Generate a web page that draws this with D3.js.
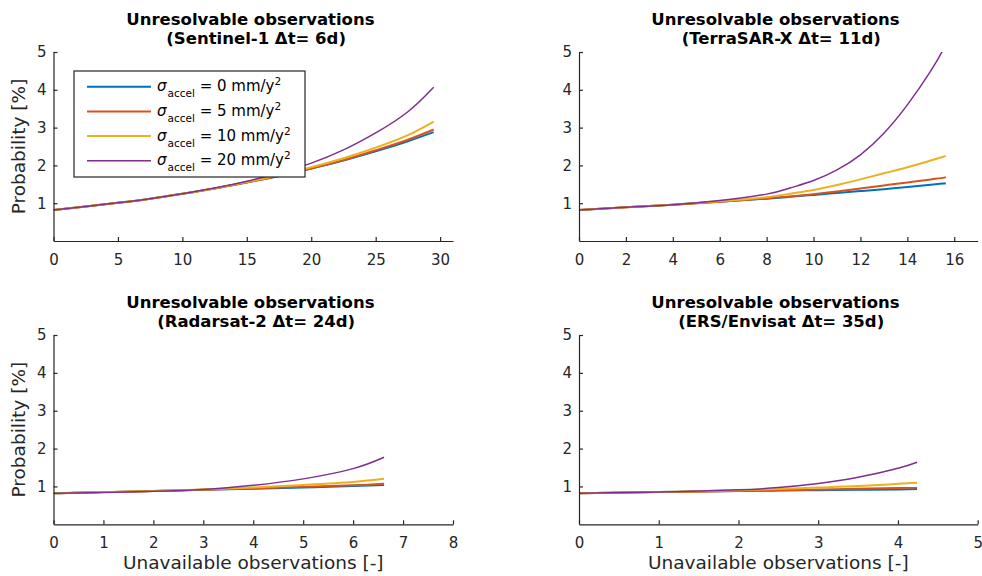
<!DOCTYPE html>
<html>
<head>
<meta charset="utf-8">
<script src="https://cdn.jsdelivr.net/npm/d3@7"></script>
<style>
  body { margin: 0; background: #fff; }
  svg { font-family: "DejaVu Sans", sans-serif; }
</style>
</head>
<body>
<svg id="fig" width="982" height="576"></svg>
<script>
// series order: sigma_accel = 0, 5, 10, 20 mm/y^2
var sigmaLabels = ["0", "5", "10", "20"];
var colors = ["#0072BD", "#D95319", "#EDB120", "#7E2F8E"];
var widths = [2, 2, 2, 1.5];

var titles = [
    ["Unresolvable observations ", " (Sentinel-1 \u0394t= 6d)"],
    ["Unresolvable observations ", " (TerraSAR-X \u0394t= 11d)"],
    ["Unresolvable observations ", " (Radarsat-2 \u0394t= 24d)"],
    ["Unresolvable observations ", " (ERS/Envisat \u0394t= 35d)"]
];

var xMax = [31, 17, 8, 5];
var xTicks = [
    [0, 5, 10, 15, 20, 25, 30],
    [0, 2, 4, 6, 8, 10, 12, 14, 16],
    [0, 1, 2, 3, 4, 5, 6, 7, 8],
    [0, 1, 2, 3, 4, 5]
];
var yTicks = [1, 2, 3, 4, 5];

// Sentinel-1
var s1_x = [0, 2.5, 5, 7.5, 10, 12.5, 15, 17.5, 20, 22.5, 25, 27.5, 29.5];
var s1_y = [
    [0.82, 0.91, 1.01, 1.12, 1.25, 1.39, 1.55, 1.72, 1.92, 2.13, 2.37, 2.64, 2.88],
    [0.82, 0.91, 1.01, 1.12, 1.25, 1.39, 1.55, 1.72, 1.92, 2.14, 2.40, 2.68, 2.95],
    [0.82, 0.91, 1.01, 1.12, 1.25, 1.39, 1.56, 1.74, 1.95, 2.19, 2.47, 2.80, 3.16],
    [0.82, 0.91, 1.01, 1.12, 1.25, 1.40, 1.58, 1.80, 2.06, 2.41, 2.86, 3.42, 4.07]
];

// TerraSAR-X
var tsx_x = [0, 2, 4, 6, 8, 9, 10, 11, 12, 13, 14, 15, 15.5, 15.64];
var tsx_y = [
    [0.82, 0.89, 0.96, 1.04, 1.12, 1.17, 1.22, 1.27, 1.32, 1.37, 1.43, 1.49, 1.52, 1.53],
    [0.82, 0.89, 0.96, 1.04, 1.13, 1.18, 1.24, 1.31, 1.39, 1.47, 1.55, 1.63, 1.67, 1.69],
    [0.82, 0.89, 0.96, 1.05, 1.16, 1.25, 1.35, 1.48, 1.63, 1.79, 1.95, 2.13, 2.22, 2.25],
    [0.82, 0.89, 0.96, 1.07, 1.24, 1.40, 1.60, 1.88, 2.28, 2.85, 3.60, 4.50, 5.03, 5.2]
];

// Radarsat-2
var rs2_x = [0, 1, 2, 3, 4, 5, 6, 6.62];
var rs2_y = [
    [0.82, 0.85, 0.88, 0.91, 0.94, 0.97, 1.01, 1.04],
    [0.82, 0.85, 0.88, 0.91, 0.95, 0.99, 1.03, 1.07],
    [0.82, 0.85, 0.88, 0.92, 0.97, 1.04, 1.12, 1.20],
    [0.82, 0.84, 0.87, 0.92, 1.03, 1.20, 1.47, 1.77]
];

// ERS/Envisat
var ers_x = [0, 1, 2, 2.5, 3, 3.5, 4, 4.24];
var ers_y = [
    [0.82, 0.85, 0.88, 0.89, 0.90, 0.91, 0.92, 0.93],
    [0.82, 0.85, 0.88, 0.90, 0.92, 0.94, 0.96, 0.97],
    [0.82, 0.85, 0.90, 0.93, 0.97, 1.01, 1.07, 1.10],
    [0.82, 0.85, 0.91, 0.97, 1.08, 1.24, 1.48, 1.64]
];

var panelX = [s1_x, tsx_x, rs2_x, ers_x];
var panelY = [s1_y, tsx_y, rs2_y, ers_y];

// axes boxes: [left, right, top, bottom]
var boxes = [
    [53.5, 453, 52, 241],
    [579, 977.7, 52, 241],
    [53.5, 453, 335, 524.3],
    [579, 977.7, 335, 524.3]
];

var svg = d3.select("#fig");
var axisColor = "#262626";

boxes.forEach(function (b, p) {
    var x = d3.scaleLinear().domain([0, xMax[p]]).range([b[0], b[1]]);
    var y = d3.scaleLinear().domain([0, 5]).range([b[3], b[2]]);
    var g = svg.append("g").attr("class", "panel");

    g.append("clipPath").attr("id", "clip" + p)
        .append("rect")
        .attr("x", b[0]).attr("y", b[2])
        .attr("width", b[1] - b[0]).attr("height", b[3] - b[2]);

    var line = d3.line()
        .x(function (d) { return x(d[0]); })
        .y(function (d) { return y(d[1]); })
        .curve(d3.curveNatural);

    var lines = g.append("g").attr("clip-path", "url(#clip" + p + ")");
    panelY[p].forEach(function (ser, i) {
        lines.append("path")
            .datum(panelX[p].map(function (v, k) { return [v, ser[k]]; }))
            .attr("d", line)
            .attr("fill", "none")
            .attr("stroke", colors[i])
            .attr("stroke-width", widths[i]);
    });

    var fmt = d3.format("d");
    var ax = g.append("g")
        .attr("transform", "translate(0," + b[3] + ")")
        .call(d3.axisBottom(x).tickValues(xTicks[p]).tickFormat(fmt)
            .tickSizeInner(-4).tickSizeOuter(0).tickPadding(13));
    var ay = g.append("g")
        .attr("transform", "translate(" + b[0] + ",0)")
        .call(d3.axisLeft(y).tickValues(yTicks).tickFormat(fmt)
            .tickSizeInner(-4).tickSizeOuter(0).tickPadding(7));

    [ax, ay].forEach(function (a) {
        a.select(".domain").attr("stroke", axisColor).attr("stroke-width", 1.2);
        a.selectAll(".tick line").attr("stroke", axisColor).attr("stroke-width", 1.2);
        a.selectAll(".tick text").attr("fill", axisColor)
            .attr("font-size", 15).attr("font-family", "DejaVu Sans");
    });

    var cx = (b[0] + b[1]) / 2;
    titles[p].forEach(function (t, k) {
        g.append("text")
            .attr("x", cx)
            .attr("y", b[2] - 27 + k * 19)
            .attr("text-anchor", "middle")
            .attr("font-size", 16.5)
            .attr("font-weight", "bold")
            .style("white-space", "pre")
            .attr("fill", "#000")
            .text(t);
    });

    // y label only on left column, x label only on bottom row
    if (p % 2 == 0) {
        g.append("text")
            .attr("transform", "translate(25," + ((b[2] + b[3]) / 2) + ") rotate(-90)")
            .attr("text-anchor", "middle")
            .attr("font-size", 18.5)
            .attr("fill", axisColor)
            .text("Probability [%]");
    }
    if (p >= 2) {
        g.append("text")
            .attr("x", cx)
            .attr("y", 569)
            .attr("text-anchor", "middle")
            .attr("font-size", 18.5)
            .attr("fill", axisColor)
            .text("Unavailable observations [-]");
    }
});

// legend in first panel
var leg = svg.append("g").attr("transform", "translate(74,71)");
leg.append("rect")
    .attr("width", 231).attr("height", 106)
    .attr("fill", "#fff")
    .attr("stroke", axisColor)
    .attr("stroke-width", 1.2);

sigmaLabels.forEach(function (s, i) {
    var ry = 15.7 + i * 24.7;
    leg.append("line")
        .attr("x1", 13).attr("x2", 77)
        .attr("y1", ry).attr("y2", ry)
        .attr("stroke", colors[i])
        .attr("stroke-width", widths[i]);
    var t = leg.append("text")
        .attr("x", 83).attr("y", ry + 4.5)
        .attr("font-size", 15)
        .attr("fill", "#000")
        .style("white-space", "pre");
    t.append("tspan").attr("font-style", "italic").text("\u03c3");
    t.append("tspan").attr("font-size", 10.5).attr("dy", 6).attr("dx", 1).text("accel");
    t.append("tspan").attr("dy", -6).text(" = " + s + " mm/y");
    t.append("tspan").attr("font-size", 10.5).attr("dy", -6).text("2");
});
</script>
</body>
</html>
